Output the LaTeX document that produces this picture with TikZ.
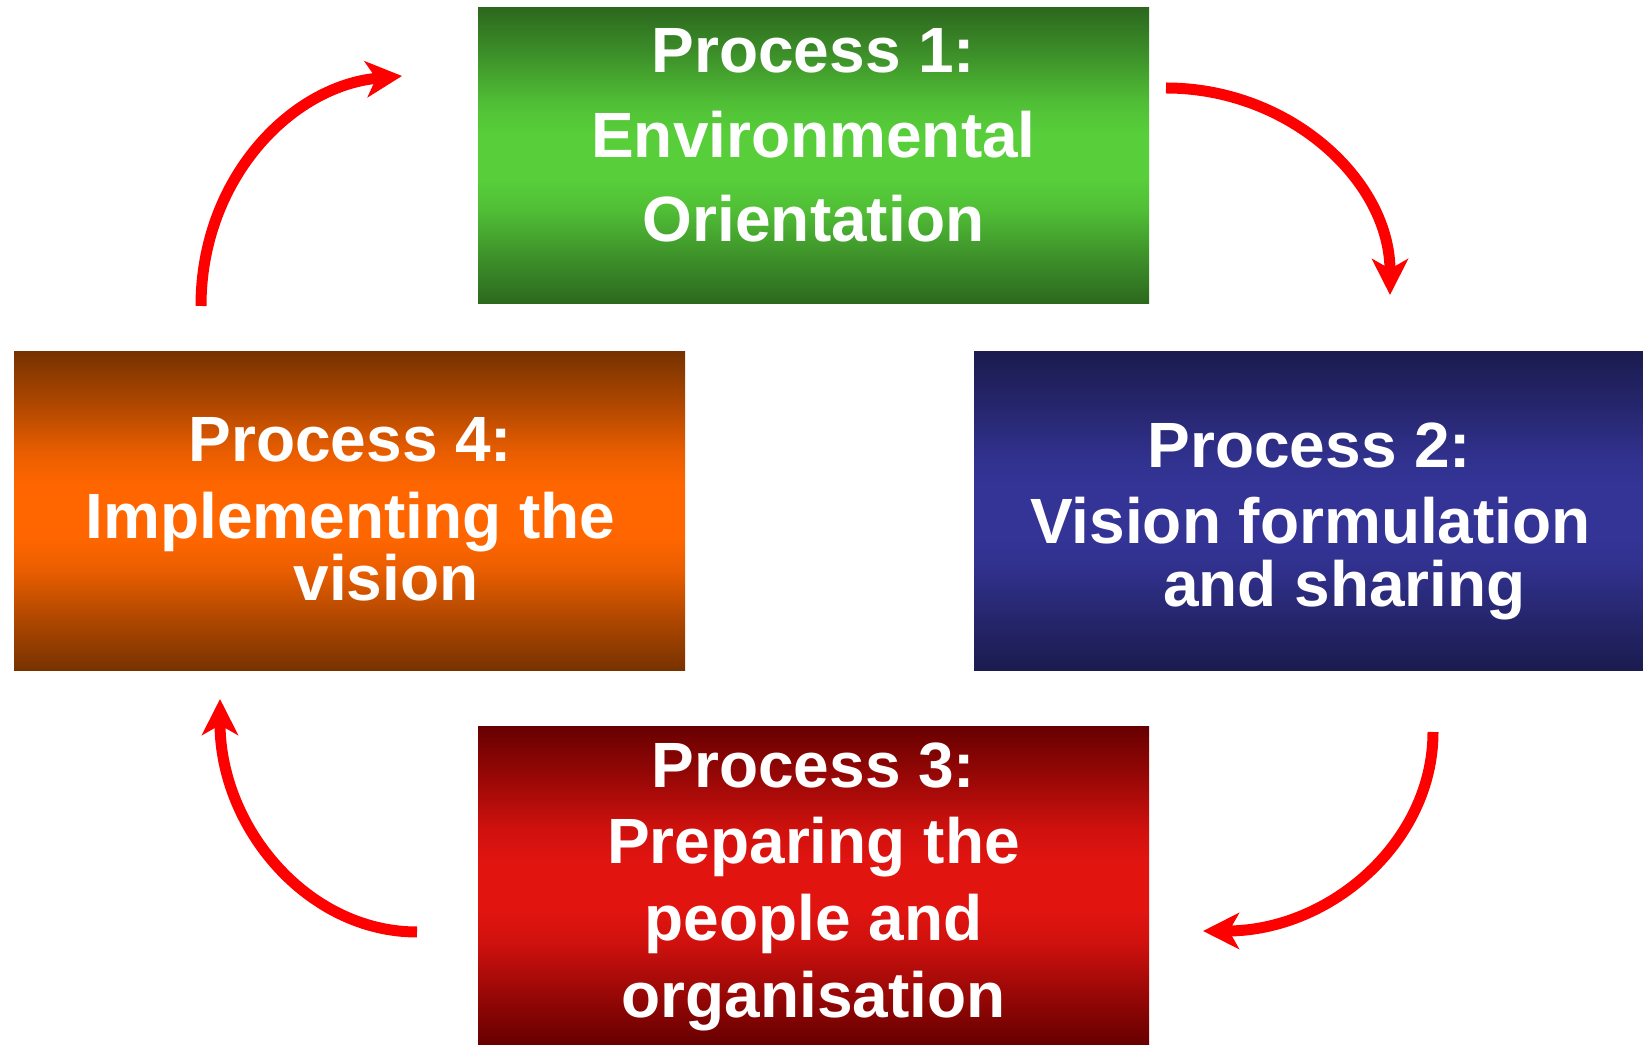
\documentclass[tikz,border=0pt]{standalone}
\usepackage{fontspec}
\setmainfont{Liberation Sans}
\usetikzlibrary{arrows.meta}

\definecolor{greenEdge}{HTML}{2C681E}
\definecolor{greenMid}{HTML}{57CE3A}
\definecolor{blueEdge}{HTML}{1B1B4F}
\definecolor{blueMid}{HTML}{343497}
\definecolor{orangeEdge}{HTML}{773200}
\definecolor{orangeMid}{HTML}{FF6600}
\definecolor{redEdge}{HTML}{680000}
\definecolor{redMid}{HTML}{E11410}
\definecolor{cycleRed}{HTML}{FF0000}

% vertical shadings: dark at top and bottom, a broad bright band in the middle
% (the path spans 25bp--75bp of the declared 100bp shading)
\newcommand\boxshading[3]{%
  \pgfdeclareverticalshading{#1}{100bp}{%
    color(0bp)=(#2); color(25bp)=(#2);
    color(33bp)=(#2!60!#3); color(41bp)=(#2!15!#3);
    color(46bp)=(#3); color(54bp)=(#3);
    color(59bp)=(#2!15!#3); color(67bp)=(#2!60!#3);
    color(75bp)=(#2); color(100bp)=(#2)}}
\boxshading{greenshade}{greenEdge}{greenMid}
\boxshading{blueshade}{blueEdge}{blueMid}
\boxshading{orangeshade}{orangeEdge}{orangeMid}
\boxshading{redshade}{redEdge}{redMid}

\tikzset{
  procbox/.style={rectangle, draw=none, inner sep=0pt},
  greenbox/.style={procbox, shading=greenshade},
  bluebox/.style={procbox, shading=blueshade},
  orangebox/.style={procbox, shading=orangeshade},
  redbox/.style={procbox, shading=redshade},
  boxline/.style={anchor=base, inner sep=0pt, text=white,
    font=\fontsize{64}{64}\selectfont\bfseries},
  cyclearrow/.style={draw=cycleRed, line width=11pt,
    -{Stealth[length=36pt, width=36pt, inset=10pt]}},
}

\begin{document}
\begin{tikzpicture}[x=1pt, y=1pt]
  \useasboundingbox (0,0) rectangle (1643,1044);

  % the four process boxes
  \node[greenbox,  minimum width=671pt, minimum height=296pt] (p1) at (813.5,888) {};
  \node[bluebox,   minimum width=669pt, minimum height=319pt] (p2) at (1308.5,532.5) {};
  \node[redbox,    minimum width=671pt, minimum height=317pt] (p3) at (813.5,158.5) {};
  \node[orangebox, minimum width=671pt, minimum height=319pt] (p4) at (349.5,532.5) {};

  % box captions, one node per line
  \node[boxline] (p1a) at (813.5,971) {Process 1:};
  \node[boxline] (p1b) at (813.5,886) {Environmental};
  \node[boxline] (p1c) at (813.5,802) {Orientation};

  \node[boxline] (p2a) at (1309.5,576) {Process 2:};
  \node[boxline] (p2b) at (1310.5,500) {Vision formulation};
  \node[boxline] (p2c) at (1344.5,437) {and sharing};

  \node[boxline] (p3a) at (813.5,256) {Process 3:};
  \node[boxline] (p3b) at (813.5,180) {Preparing the};
  \node[boxline] (p3c) at (813.5,103) {people and};
  \node[boxline] (p3d) at (813.5,27) {organisation};

  \node[boxline] (p4a) at (350.5,582) {Process 4:};
  \node[boxline] (p4b) at (350.5,505) {Implementing the};
  \node[boxline] (p4c) at (386,443) {vision};

  % end points of the cycle arrows
  \coordinate (a1s) at (201,738);
  \coordinate (a1e) at (402,968);
  \coordinate (a2s) at (1166,956);
  \coordinate (a2e) at (1390,749);
  \coordinate (a3s) at (1433,312);
  \coordinate (a3e) at (1203,113);
  \coordinate (a4s) at (417,112);
  \coordinate (a4e) at (220,345);

  % the cycle arrows
  \draw[cyclearrow] (a1s) .. controls (201,865) and (291,958) .. (a1e);
  \draw[cyclearrow] (a2s) .. controls (1290,956) and (1390,863) .. (a2e);
  \draw[cyclearrow] (a3s) .. controls (1433,202) and (1330,113) .. (a3e);
  \draw[cyclearrow] (a4s) .. controls (308,112) and (220,216) .. (a4e);
\end{tikzpicture}
\end{document}
